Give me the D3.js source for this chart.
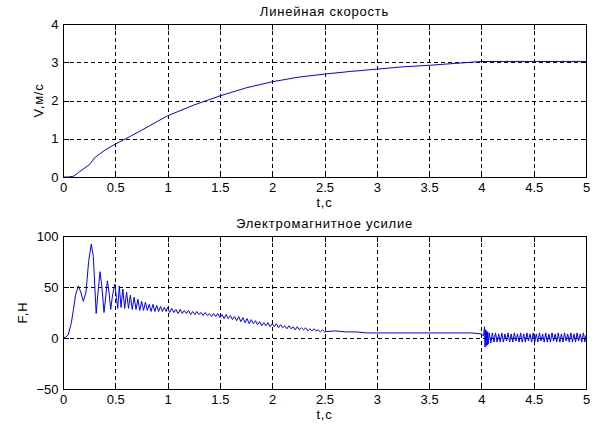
<!DOCTYPE html>
<html>
<head>
<meta charset="utf-8">
<script src="https://cdn.jsdelivr.net/npm/d3@7"></script>
<style>
  body { margin: 0; background: #fff; }
  svg text { font-family: "Liberation Sans", Arial, sans-serif; font-size: 13px; fill: #000; }
  .label { letter-spacing: 0.8px; }
  .grid line { stroke: #000; stroke-dasharray: 4,3; shape-rendering: crispEdges; }
  .axis path, .axis line { stroke: #000; shape-rendering: crispEdges; }
  .trace { fill: none; stroke: #0000ff; stroke-width: 1; }
</style>
</head>
<body>
<svg id="chart" width="596" height="425"></svg>
<script>
// time ticks shared by both plots
var timeTicks = [0, 0.5, 1, 1.5, 2, 2.5, 3, 3.5, 4, 4.5, 5];
var speedTicks = [0, 1, 2, 3, 4];
var forceTicks = [-50, 0, 50, 100];

// linear speed, m/s
var speed = [[0,0],[0.05,0],[0.1,0.02],[0.15,0.12],[0.2,0.22],[0.25,0.32],[0.28,0.42],[0.3,0.5],
  [0.35,0.6],[0.4,0.7],[0.5,0.86],[0.6,1.0],[0.75,1.22],[0.9,1.45],[1.0,1.6],[1.25,1.88],
  [1.5,2.12],[1.75,2.33],[2.0,2.49],[2.25,2.61],[2.5,2.69],[2.75,2.76],[3.0,2.82],[3.25,2.88],
  [3.5,2.92],[3.75,2.97],[3.9,3.0],[4.0,3.02],[4.5,3.02],[5.0,3.02]];

// electromagnetic force, N : start-up oscillation
var forceStart = [[0,0],[0.03,1],[0.05,3],[0.08,15],[0.1,28],[0.12,42],[0.146,51],[0.17,45],
  [0.194,36],[0.22,45],[0.245,75],[0.27,92],[0.29,80],[0.317,24],[0.335,45],[0.354,65],
  [0.372,50],[0.392,25],[0.41,42],[0.424,56],[0.44,45],[0.456,28],[0.475,43],[0.497,53],
  [0.51,40],[0.523,29],[0.538,51]];

var forceDecay = [[0.555,30],[0.572,48],[0.59,29],[0.608,45],[0.626,29],[0.644,42],[0.662,28],
  [0.68,40],[0.698,28],[0.716,38],[0.734,27],[0.752,36],[0.77,27],[0.788,35],[0.806,27],
  [0.824,33],[0.842,26],[0.86,33],[0.878,26],[0.896,32],[0.914,26],[0.932,31],[0.95,26],
  [0.968,30],[0.986,26],[1.0,30],[1.02,25],[1.04,29],[1.06,25],[1.08,28],[1.1,24],[1.12,28],
  [1.14,24],[1.16,27],[1.18,24],[1.2,27],[1.22,23],[1.24,26],[1.26,23],[1.28,26],[1.3,23],
  [1.32,25],[1.34,22],[1.36,25],[1.38,22],[1.4,24],[1.42,21],[1.44,24],[1.46,21],[1.48,24],
  [1.5,20],[1.52,23],[1.54,19],[1.56,23],[1.58,19],[1.6,22],[1.62,18],[1.64,21],[1.66,17],
  [1.68,21],[1.7,16],[1.72,20],[1.74,15],[1.76,19],[1.78,14],[1.8,18],[1.82,14],[1.84,17],
  [1.86,13],[1.88,16],[1.9,12],[1.92,15],[1.94,12],[1.96,15],[1.98,11],[2.0,14],[2.02,11],
  [2.04,14],[2.06,10],[2.08,13],[2.1,10],[2.12,12],[2.14,9],[2.16,12],[2.18,9],[2.2,11],
  [2.22,8],[2.24,11],[2.26,8],[2.28,10],[2.3,8],[2.32,10],[2.34,7],[2.36,9],[2.38,7],
  [2.4,9],[2.42,7],[2.44,8],[2.46,6],[2.48,8],[2.5,6]];

var forceSteady = [[2.6,7],[2.7,6],[2.8,6],[2.9,5],[3.0,5],[3.2,5],[3.5,5],[3.7,5],[3.9,5],[4.0,4]];

// switching at t=4 s and the ripple after it
var forceTail = [[4.02,2],[4.03,11],[4.035,-9],[4.04,8],[4.045,-8],[4.05,7],[4.055,-7],[4.06,6],
  [4.065,-6],[4.075,5],[4.09,-5],[4.105,5],[4.12,-4],[4.135,5],[4.15,-4],[4.165,4],[4.18,-4],
  [4.195,5],[4.21,-4],[4.225,4],[4.24,-3],[4.255,5],[4.27,-4],[4.285,4],[4.3,-4],[4.315,5],
  [4.33,-3],[4.345,4],[4.36,-4],[4.375,5],[4.39,-4],[4.405,4],[4.42,-4],[4.435,5],[4.45,-3],
  [4.465,4],[4.48,-4],[4.495,5],[4.51,-4],[4.525,4],[4.54,-4],[4.555,5],[4.57,-3],[4.585,4],
  [4.6,-4],[4.615,5],[4.63,-4],[4.645,4],[4.66,-4],[4.675,5],[4.69,-3],[4.705,4],[4.72,-4],
  [4.735,5],[4.75,-4],[4.765,4],[4.78,-4],[4.795,5],[4.81,-3],[4.825,4],[4.84,-4],[4.855,5],
  [4.87,-4],[4.885,4],[4.9,-4],[4.915,5],[4.93,-3],[4.945,4],[4.96,-4],[4.975,5],[4.99,-4],[5.0,3]];

var force = forceStart.concat(forceDecay, forceSteady, forceTail);

var svg = d3.select("#chart");

function drawPanel(opts) {
    var x = d3.scaleLinear().domain([0, 5]).range([opts.left, opts.right]);
    var y = d3.scaleLinear().domain(opts.yDomain).range([opts.bottom, opts.top]);
    var g = svg.append("g");

    // grid
    var grid = g.append("g").attr("class", "grid");
    grid.selectAll(".gx")
        .data(timeTicks.slice(1, -1))
        .enter().append("line")
        .attr("x1", function(d) { return Math.round(x(d)) + 0.5; })
        .attr("x2", function(d) { return Math.round(x(d)) + 0.5; })
        .attr("y1", opts.top).attr("y2", opts.bottom);
    grid.selectAll(".gy")
        .data(opts.yTicks.slice(1, -1))
        .enter().append("line")
        .attr("y1", function(d) { return Math.round(y(d)) + 0.5; })
        .attr("y2", function(d) { return Math.round(y(d)) + 0.5; })
        .attr("x1", opts.left).attr("x2", opts.right);

    // data
    var line = d3.line()
        .x(function(d) { return x(d[0]); })
        .y(function(d) { return y(d[1]); });
    g.append("path").datum(opts.data).attr("class", "trace").attr("d", line);

    // axes, ticks pointing inward
    g.append("g").attr("class", "axis")
        .attr("transform", "translate(0," + (opts.bottom + 0.5) + ")")
        .call(d3.axisBottom(x).tickValues(timeTicks).tickSize(-5).tickPadding(5).tickFormat(d3.format("")))
        .call(function(s) { s.select(".domain").remove(); });
    g.append("g").attr("class", "axis")
        .attr("transform", "translate(0," + (opts.top + 0.5) + ")")
        .call(d3.axisTop(x).tickValues(timeTicks).tickSize(-5).tickFormat(""))
        .call(function(s) { s.select(".domain").remove(); });
    g.append("g").attr("class", "axis")
        .attr("transform", "translate(" + (opts.left + 0.5) + ",0)")
        .call(d3.axisLeft(y).tickValues(opts.yTicks).tickSize(-5).tickPadding(5).tickFormat(d3.format("")))
        .call(function(s) { s.select(".domain").remove(); });
    g.append("g").attr("class", "axis")
        .attr("transform", "translate(" + (opts.right + 0.5) + ",0)")
        .call(d3.axisRight(y).tickValues(opts.yTicks).tickSize(-5).tickFormat(""))
        .call(function(s) { s.select(".domain").remove(); });
    g.selectAll(".axis").attr("font-family", null).attr("font-size", null);

    // box
    g.append("rect")
        .attr("x", opts.left + 0.5).attr("y", opts.top + 0.5)
        .attr("width", opts.right - opts.left).attr("height", opts.bottom - opts.top)
        .attr("fill", "none").attr("stroke", "#000").attr("shape-rendering", "crispEdges");

    var cx = (opts.left + opts.right) / 2;
    g.append("text").attr("class", "label").attr("x", cx).attr("y", opts.top - 8)
        .attr("text-anchor", "middle").text(opts.title);
    g.append("text").attr("class", "label").attr("x", cx).attr("y", opts.bottom + 30)
        .attr("text-anchor", "middle").text("t,c");
    g.append("text").attr("class", "label")
        .attr("transform", "translate(" + opts.yLabelX + "," + ((opts.top + opts.bottom) / 2) + ") rotate(-90)")
        .attr("text-anchor", "middle").text(opts.yLabel);
}

drawPanel({
    left: 63, right: 586, top: 24, bottom: 177,
    yDomain: [0, 4], yTicks: speedTicks, data: speed,
    title: "Линейная скорость", yLabel: "V,м/с", yLabelX: 43
});

drawPanel({
    left: 63, right: 586, top: 236, bottom: 389,
    yDomain: [-50, 100], yTicks: forceTicks, data: force,
    title: "Электромагнитное усилие", yLabel: "F,H", yLabelX: 27
});
</script>
</body>
</html>
